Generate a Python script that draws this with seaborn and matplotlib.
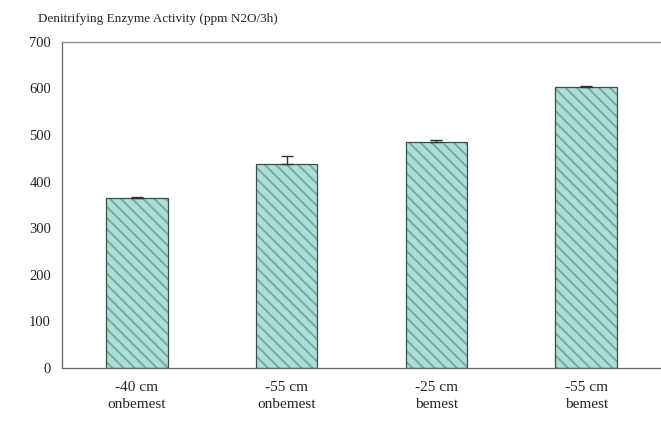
import numpy as np
import pandas as pd
import matplotlib
matplotlib.use("Agg")
import matplotlib.pyplot as plt
import seaborn as sns

# values
categories = ["-40 cm\nonbemest", "-55 cm\nonbemest", "-25 cm\nbemest", "-55 cm\nbemest"]
activity = [364, 438, 485, 603]
err_up = [4, 17, 4, 2]
title = "Denitrifying Enzyme Activity (ppm N2O/3h)"

sns.set_style("white")
plt.rcParams["font.family"] = ["Liberation Serif", "DejaVu Serif"]
plt.rcParams["hatch.linewidth"] = 1.4
hatch_col = "#72ad9f"

df = pd.DataFrame({"cat": categories, "val": activity})

fig = plt.figure(figsize=(6.61, 4.23), dpi=100)
ax = fig.add_axes([0.094, 0.130, 0.906, 0.771])

# hatched fill (hatch takes the edge colour), then a plain outline on top
sns.barplot(data=df, x="cat", y="val", color="#aedcd8", width=0.41,
            edgecolor=hatch_col, linewidth=0, errorbar=None, ax=ax,
            saturation=1, hatch="\\\\\\")
sns.barplot(data=df, x="cat", y="val", width=0.41, fill=False,
            edgecolor="#3d4d4a", linewidth=0.9, errorbar=None, ax=ax)

ax.errorbar(np.arange(len(activity)), activity,
            yerr=[np.zeros(len(err_up)), err_up], fmt="none",
            ecolor="#333333", elinewidth=1, capsize=4, capthick=1)

ax.set_xlim(-0.5, 3.5)
ax.set_ylim(0, 700)
ax.set_yticks(range(0, 701, 100))
ax.set_xticks([-0.5, 0.5, 1.5, 2.5], minor=True)
ax.tick_params(axis="x", which="major", length=0, pad=9, labelsize=11)
ax.tick_params(axis="x", which="minor", length=4, width=0.8, color="#555555", direction="out")
ax.tick_params(axis="y", length=4, width=0.8, color="#555555", direction="out", labelsize=10.5, pad=4)
for lbl in ax.get_xticklabels():
    lbl.set_linespacing(1.45)
ax.set_xlabel("")
ax.set_ylabel("")

for s in ["left", "bottom", "top"]:
    ax.spines[s].set_color("#666666")
    ax.spines[s].set_linewidth(0.9)
ax.spines["right"].set_visible(False)
ax.spines["top"].set_color("#888888")

fig.text(0.057, 0.955, title, fontsize=9.5, ha="left", va="center")

fig.savefig("out.png", dpi=100)
